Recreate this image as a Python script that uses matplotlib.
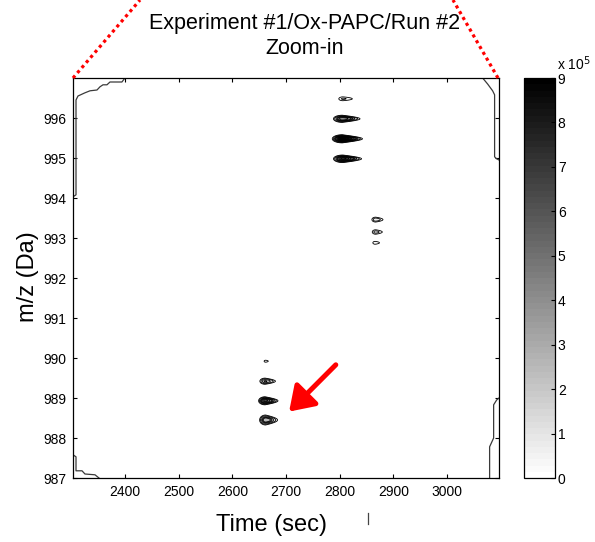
import numpy as np
import matplotlib
matplotlib.use("Agg")
import matplotlib.pyplot as plt
from matplotlib.lines import Line2D
from matplotlib import cm, colors

plt.rcParams['font.family'] = ['Liberation Sans', 'DejaVu Sans']

# ---------------- data ----------------
title_lines = ["Experiment #1/Ox-PAPC/Run #2", "Zoom-in"]
x_label = "Time (sec)"
y_label = "m/z (Da)"
x_range = [2303, 3097]
y_range = [987, 997]
x_ticks = [2400, 2500, 2600, 2700, 2800, 2900, 3000]
y_ticks = [987, 988, 989, 990, 991, 992, 993, 994, 995, 996]
cbar_ticks = [0, 1, 2, 3, 4, 5, 6, 7, 8, 9]      # x 10^5
cbar_max = 9e5

# peaks (retention time, m/z, intensity, widths)
peak_time = [2806, 2805, 2805, 2806, 2867, 2867, 2866, 2662, 2661, 2661, 2662]
peak_mz = [996.48, 995.98, 995.48, 994.98, 993.46, 993.15, 992.88,
           989.92, 989.42, 988.93, 988.45]
peak_amp = [0.55e5, 4.0e5, 9.0e5, 5.5e5, 0.8e5, 0.65e5, 0.42e5,
            0.32e5, 1.6e5, 4.5e5, 3.0e5]
peak_sig_left = [6, 7, 7, 7, 4.5, 4.5, 4, 4, 5, 5, 5]
peak_sig_right = [14, 14, 14, 14, 9, 9, 8, 7, 10, 10, 10]
peak_sig_mz = [0.038, 0.038, 0.038, 0.038, 0.04, 0.04, 0.035,
               0.035, 0.04, 0.042, 0.056]
contour_levels = [0.25e5, 0.5e5, 1e5, 1.5e5, 2e5, 3e5, 4e5,
                  5e5, 6e5, 7e5, 8e5]

# edge contour pieces (time, m/z)
edge_tl_t = [2303, 2308.6, 2308.6, 2312.3, 2325.3, 2334.7, 2347.7, 2353.3,
             2358.9, 2366.3, 2371.9, 2394.2, 2399.8]
edge_tl_m = [994.03, 994.08, 996.45, 996.55, 996.63, 996.68, 996.70, 996.78,
             996.83, 996.83, 996.90, 996.90, 997.0]
edge_bl_t = [2303, 2308.6, 2308.6, 2319.8, 2325.3, 2344.0, 2351.4]
edge_bl_m = [987.58, 987.53, 987.18, 987.18, 987.10, 987.08, 987.0]
edge_tr_t = [3066.5, 3075.8, 3085.1, 3088.8, 3088.8, 3092.6, 3097]
edge_tr_m = [997.0, 996.85, 996.68, 996.58, 995.03, 994.98, 994.95]
edge_br_t = [3097, 3092.6, 3087.0, 3087.0, 3079.5, 3079.5]
edge_br_m = [989.0, 988.95, 988.83, 988.0, 987.78, 987.0]

arrow_tail = (2792.8, 989.83)
arrow_tip = (2705.8, 988.66)

# ---------------- figure ----------------
W, H = 595, 542
fig = plt.figure(figsize=(W / 100, H / 100), dpi=100)
ax = fig.add_axes([73 / W, 1 - 478 / H, 426 / W, 400 / H])

t = np.arange(x_range[0], x_range[1] + 0.5, 1.0)
m = np.arange(y_range[0], y_range[1] + 0.0025, 0.005)
T, M = np.meshgrid(t, m)
Z = np.zeros_like(T)
for t0, m0, a, sl, sr, smz in zip(peak_time, peak_mz, peak_amp,
                                  peak_sig_left, peak_sig_right, peak_sig_mz):
    right = T >= t0
    st = np.where(right, sr, sl)
    # peaks taper slightly towards the tail (teardrop shape)
    smz_eff = np.where(right, smz / (1 + 0.25 * (T - t0) / sr), smz)
    Z += a * np.exp(-0.5 * ((T - t0) / st) ** 2) * np.exp(-0.5 * ((M - m0) / smz_eff) ** 2)

norm = colors.Normalize(0, cbar_max)
cmap = plt.get_cmap('gray_r', 64)
ax.contourf(T, M, Z, levels=contour_levels + [1e7], cmap=cmap, norm=norm)
ax.contour(T, M, Z, levels=contour_levels, colors='black', linewidths=0.6)

for et, em in [(edge_tl_t, edge_tl_m), (edge_bl_t, edge_bl_m),
               (edge_tr_t, edge_tr_m), (edge_br_t, edge_br_m)]:
    ax.plot(et, em, color='#3a3a3a', lw=0.9)

ax.set_xlim(x_range)
ax.set_ylim(y_range)
ax.set_xticks(x_ticks)
ax.set_yticks(y_ticks)
ax.tick_params(direction='in', length=3, width=0.8, labelsize=10,
               top=True, right=True, pad=5)
for s in ax.spines.values():
    s.set_linewidth(0.9)

ax.annotate('', xy=arrow_tip, xytext=arrow_tail,
            arrowprops=dict(arrowstyle='-|>,head_length=0.45,head_width=0.3',
                            color='#ff0000', lw=3.6, mutation_scale=32,
                            shrinkA=0, shrinkB=0))

# colorbar
cax = fig.add_axes([524 / W, 1 - 478 / H, 31 / W, 400 / H])
sm_ = cm.ScalarMappable(norm=norm, cmap=cmap)
cb = fig.colorbar(sm_, cax=cax)
cb.set_ticks([v * 1e5 for v in cbar_ticks])
cb.set_ticklabels([str(v) for v in cbar_ticks])
cax.tick_params(direction='in', length=3, width=0.8, labelsize=10, pad=2)
cb.outline.set_linewidth(0.9)
fig.text(557 / W, 1 - 70 / H, r'x 10$^5$', fontsize=10, ha='left', va='baseline')

# titles / labels
fig.text(305 / W, 1 - 23 / H, title_lines[0], fontsize=15.5, ha='center', va='center')
fig.text(305 / W, 1 - 48 / H, title_lines[1], fontsize=15.5, ha='center', va='center')
fig.text(272 / W, 1 - 525 / H, x_label, fontsize=17, ha='center', va='center')
fig.text(28 / W, 1 - 277 / H, y_label, fontsize=17, ha='center', va='center', rotation=90)

# red dotted zoom lines
for (x0, y0, x1, y1) in [(73, 78, 140, 0), (498, 78, 453, 0)]:
    fig.add_artist(Line2D([x0 / W, x1 / W], [1 - y0 / H, 1 - y1 / H],
                          transform=fig.transFigure, color='#ff0000', lw=2.3,
                          linestyle=(0, (1, 1.1)), solid_capstyle='butt',
                          dash_capstyle='butt'))
# small stray mark
fig.add_artist(Line2D([368 / W, 368 / W], [1 - 513 / H, 1 - 524 / H],
                      transform=fig.transFigure, color='#444444', lw=0.9))

fig.savefig('out.png', dpi=100)
